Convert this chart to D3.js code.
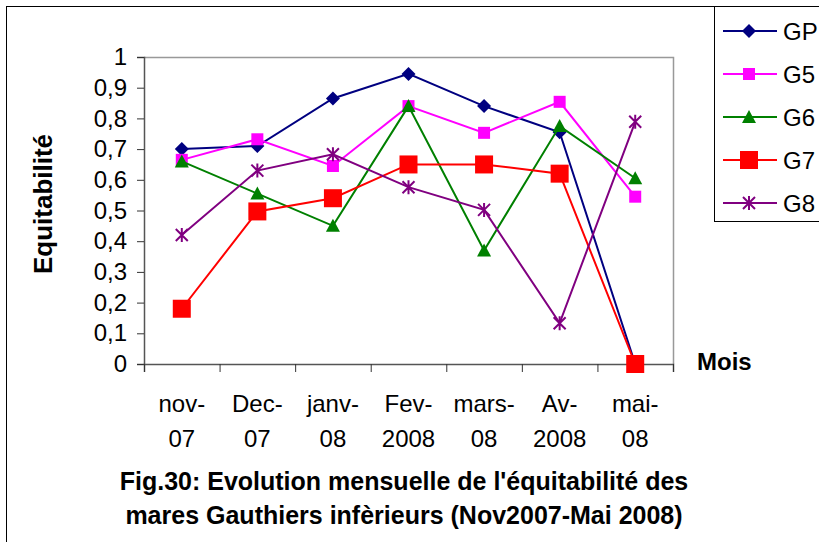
<!DOCTYPE html>
<html>
<head>
<meta charset="utf-8">
<script src="https://cdn.jsdelivr.net/npm/d3@7"></script>
<style>
  body { margin: 0; background: #fff; }
  svg { display: block; font-family: "Liberation Sans", Arial, sans-serif; }
</style>
</head>
<body>
<div class="chart"></div>
<script>
// months, two lines per label
const monthTop = ["nov-", "Dec-", "janv-", "Fev-", "mars-", "Av-", "mai-"];
const monthBottom = ["07", "07", "08", "2008", "08", "2008", "08"];
const yTicks = [0, 0.1, 0.2, 0.3, 0.4, 0.5, 0.6, 0.7, 0.8, 0.9, 1];

const seriesNames = ["GP", "G5", "G6", "G7", "G8"];
const gp = [0.70, 0.71, 0.865, 0.945, 0.84, 0.755, 0];
const g5 = [0.665, 0.732, 0.645, 0.84, 0.753, 0.854, 0.545];
const g6 = [0.66, 0.555, 0.45, 0.84, 0.37, 0.775, 0.605];
const g7 = [0.18, 0.497, 0.54, 0.65, 0.65, 0.62, 0];
const g8 = [0.42, 0.63, 0.683, 0.576, 0.502, 0.133, 0.789];

const colors = ["#000080", "#ff00ff", "#008000", "#ff0000", "#800080"];
const shapes = ["diamond", "square", "triangle", "bigsquare", "star"];
const values = [gp, g5, g6, g7, g8];

const width = 819, height = 542;
const plot = { left: 144, right: 673, top: 57, bottom: 364 };

const svg = d3.select(".chart").append("svg")
    .attr("width", width)
    .attr("height", height);

// outer frame
svg.append("rect")
    .attr("x", 6.5).attr("y", 6.5)
    .attr("width", 900).attr("height", 600)
    .attr("fill", "none").attr("stroke", "#000");

var x = d3.scaleBand().domain(monthTop).range([plot.left, plot.right]);
var xEdge = d3.scaleLinear().domain([0, monthTop.length]).range([plot.left, plot.right]);
var y = d3.scaleLinear().domain([0, 1]).range([plot.bottom, plot.top]);

// plot frame (top and right)
svg.append("path")
    .attr("d", `M${plot.left},${plot.top + 0.5}H${plot.right + 0.5}V${plot.bottom}`)
    .attr("fill", "none").attr("stroke", "#999").attr("stroke-width", 1.5);

// y axis
var yAxis = svg.append("g")
    .attr("transform", `translate(${plot.left},0)`)
    .call(d3.axisLeft(y).tickValues(yTicks).tickSize(7).tickPadding(10)
        .tickFormat(d => String(d).replace(".", ",")));
yAxis.select(".domain").attr("stroke", "#555").attr("stroke-width", 1.5);
yAxis.selectAll(".tick line").attr("stroke", "#333");
yAxis.selectAll("text")
    .attr("font-size", 24).attr("fill", "#000")
    .attr("font-family", "Liberation Sans, Arial, sans-serif");

// x axis (ticks between categories)
var xAxis = svg.append("g")
    .attr("transform", `translate(0,${plot.bottom})`)
    .call(d3.axisBottom(xEdge).tickValues(d3.range(monthTop.length + 1)).tickSize(8).tickFormat(""));
xAxis.select(".domain").attr("stroke", "#555").attr("stroke-width", 1.5);
xAxis.selectAll(".tick line").attr("stroke", "#333");

var labels = svg.append("g").attr("font-size", 24).attr("text-anchor", "middle");
labels.selectAll(".l1")
    .data(monthTop)
    .join("text")
    .attr("x", d => x(d) + x.bandwidth() / 2)
    .attr("y", 412)
    .text(d => d);
labels.selectAll(".l2")
    .data(monthBottom)
    .join("text")
    .attr("x", (d, i) => x(monthTop[i]) + x.bandwidth() / 2)
    .attr("y", 447)
    .text(d => d);

// axis titles
svg.append("text")
    .attr("x", 697).attr("y", 370)
    .attr("font-size", 24).attr("font-weight", "bold")
    .text("Mois");

svg.append("text")
    .attr("transform", "translate(52,204) rotate(-90)")
    .attr("text-anchor", "middle")
    .attr("font-size", 26).attr("font-weight", "bold")
    .text("Equitabilité");

// caption
svg.append("text")
    .attr("x", 404).attr("y", 490)
    .attr("text-anchor", "middle")
    .attr("font-size", 25).attr("font-weight", "bold")
    .text("Fig.30: Evolution mensuelle de l'équitabilité des");
svg.append("text")
    .attr("x", 404).attr("y", 524)
    .attr("text-anchor", "middle")
    .attr("font-size", 25).attr("font-weight", "bold")
    .text("mares Gauthiers infèrieurs (Nov2007-Mai 2008)");

function marker(sel, shape, color) {
    if (shape === "diamond") {
        sel.append("path").attr("d", "M0,-7L7,0L0,7L-7,0Z").attr("fill", color);
    } else if (shape === "square") {
        sel.append("rect").attr("x", -6).attr("y", -6).attr("width", 12).attr("height", 12).attr("fill", color);
    } else if (shape === "bigsquare") {
        sel.append("rect").attr("x", -9).attr("y", -9).attr("width", 18).attr("height", 18).attr("fill", color);
    } else if (shape === "triangle") {
        sel.append("path").attr("d", "M0,-7L7,6L-7,6Z").attr("fill", color);
    } else {
        sel.append("path").attr("d", "M-6,-6L6,6M-6,6L6,-6M0,-7L0,7")
            .attr("stroke", color).attr("stroke-width", 2).attr("fill", "none");
    }
}

var line = d3.line()
    .x((d, i) => x(monthTop[i]) + x.bandwidth() / 2)
    .y(d => y(d));

values.forEach(function(vals, s) {
    var g = svg.append("g");
    g.append("path")
        .attr("d", line(vals))
        .attr("fill", "none")
        .attr("stroke", colors[s])
        .attr("stroke-width", 2);
    vals.forEach(function(v, i) {
        var m = g.append("g")
            .attr("transform", `translate(${x(monthTop[i]) + x.bandwidth() / 2},${y(v)})`);
        marker(m, shapes[s], colors[s]);
    });
});

// legend
var legend = svg.append("g");
legend.append("rect")
    .attr("x", 714.5).attr("y", 6.5)
    .attr("width", 200).attr("height", 215)
    .attr("fill", "#fff").attr("stroke", "#000");

var legendY = d3.scalePoint().domain(seriesNames).range([31, 203]);
seriesNames.forEach(function(name, s) {
    var ly = legendY(name);
    legend.append("line")
        .attr("x1", 723).attr("x2", 777)
        .attr("y1", ly).attr("y2", ly)
        .attr("stroke", colors[s]).attr("stroke-width", 2);
    marker(legend.append("g").attr("transform", `translate(749,${ly})`), shapes[s], colors[s]);
    legend.append("text")
        .attr("x", 783).attr("y", ly + 9)
        .attr("font-size", 24)
        .text(name);
});
</script>
</body>
</html>
